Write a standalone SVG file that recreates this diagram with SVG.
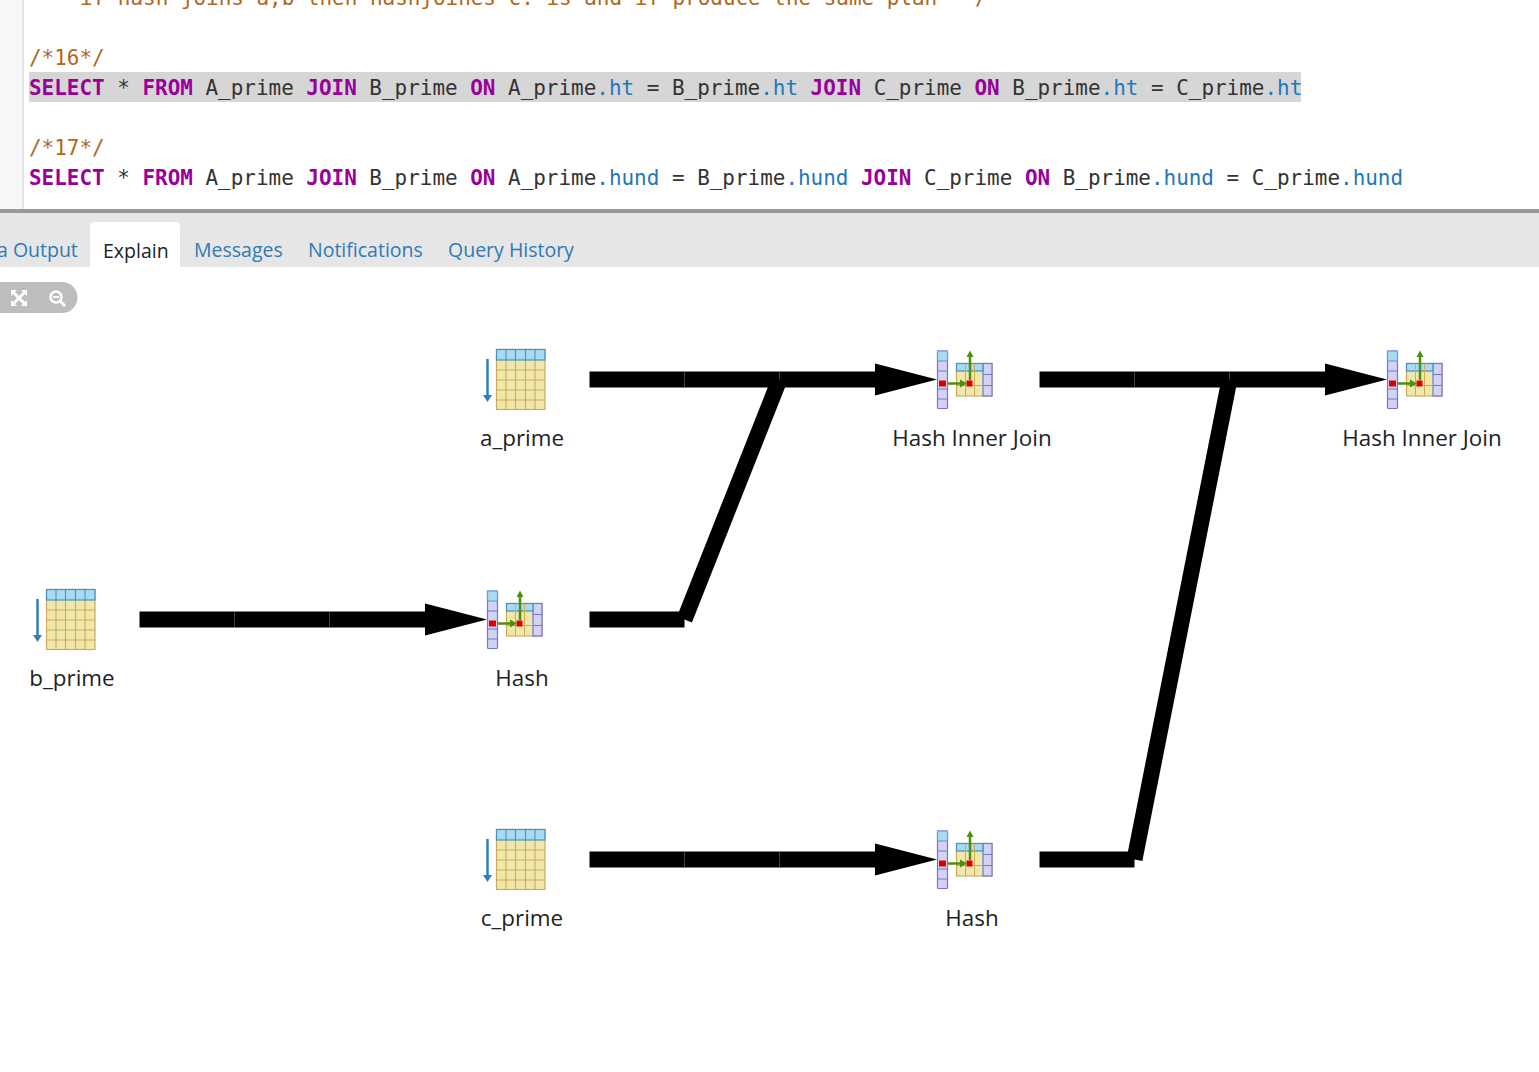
<svg xmlns="http://www.w3.org/2000/svg" width="1539" height="1072" viewBox="0 0 1539 1072">
<style>
.code{font-family:"DejaVu Sans Mono","Liberation Mono",monospace;font-size:20.95px;fill:#333;white-space:pre}
.c{fill:#b0661c}.k{fill:#990099;font-weight:bold}.v{fill:#2277bb}
.tab{font-family:"Open Sans","Noto Sans",sans-serif;font-size:19.5px;fill:#2f7ab8}
.lab{font-family:"Open Sans","Noto Sans",sans-serif;font-size:22.4px;fill:#222;text-anchor:middle}
.conn{stroke:#000;stroke-width:16;fill:none}
.arrowhead{fill:#000}
</style>
<defs>
<g id="scan">
<rect x="12.500" y="-30.500" width="48.500" height="60" fill="#f0e8aa" stroke="#cfa95c" stroke-width="1.200"/>
<path d="M12.500-10H61M12.500 0H61M12.500 10H61M12.500 20H61M22-30V30M31.500-30V30M41.500-30V30M51-30V30" stroke="#cfa95c" stroke-width="1.100" fill="none"/>
<rect x="12.500" y="-30.500" width="48.500" height="10.500" fill="#a9daf3" stroke="#4a90c0" stroke-width="1.200"/>
<path d="M22-30V-20M31.500-30V-20M41.500-30V-20M51-30V-20" stroke="#4a90c0" stroke-width="1.100" fill="none"/>
<path d="M3.500-21V16" stroke="#2f7fb8" stroke-width="2.500" fill="none"/>
<path d="M-1 15H8L3.500 22Z" fill="#2f7fb8"/>
</g>
<g id="hash">
<rect x="3.500" y="-29" width="10" height="57.500" rx="1" fill="#d4d2f2" stroke="#6f78d0" stroke-width="1.200"/>
<rect x="3.500" y="-29" width="10" height="10" fill="#a9daf3" stroke="#6f9fd0" stroke-width="1.200"/>
<path d="M3.500-9H13.500M3.500 9H13.500M3.500 19H13.500" stroke="#6f78d0" stroke-width="1"/>
<rect x="22.500" y="-16.500" width="35.500" height="32.500" fill="#f0e8aa" stroke="#cfa95c" stroke-width="1.200"/>
<rect x="49" y="-16.500" width="9" height="32.500" fill="#d4d2f2" stroke="#6f78d0" stroke-width="1.200"/>
<rect x="22.500" y="-16.500" width="26.500" height="7.500" fill="#a9daf3" stroke="#4a90c0" stroke-width="1.200"/>
<path d="M31.500-16.500V16M40.500-16.500V16M22.500 5.500H49" stroke="#cfa95c" stroke-width="1" fill="none"/>
<path d="M49-5.500H58M49 5.500H58" stroke="#6f78d0" stroke-width="1" fill="none"/>
<rect x="5" y="0.500" width="7" height="6" fill="#dd0000"/>
<rect x="32.500" y="0.500" width="6" height="6" fill="#dd0000"/>
<path d="M14 3.500H28M36-23V0" stroke="#4f8f10" stroke-width="2.500" fill="none"/>
<path d="M26-0.500L33 3.500L26 7.500ZM32.500-23L36-29.500L39.500-23Z" fill="#4f8f10"/>
</g>
</defs>
<rect width="1539" height="1072" fill="#fff"/>
<g id="editor">
<rect x="0" y="0" width="22" height="210" fill="#f7f7f7"/>
<rect x="22" y="0" width="2" height="210" fill="#e4e4e4"/>
<rect x="29" y="72" width="1272" height="30" fill="#d6d6d6"/>
<text class="code c" x="80" y="5" xml:space="preserve">if hash joins a,b then hashjoines c: is and if produce the same plan **/</text>
<text class="code c" x="29" y="65">/*16*/</text>
<text class="code" x="29" y="95" xml:space="preserve"><tspan class="k">SELECT</tspan> * <tspan class="k">FROM</tspan> A_prime <tspan class="k">JOIN</tspan> B_prime <tspan class="k">ON</tspan> A_prime<tspan class="v">.ht</tspan> = B_prime<tspan class="v">.ht</tspan> <tspan class="k">JOIN</tspan> C_prime <tspan class="k">ON</tspan> B_prime<tspan class="v">.ht</tspan> = C_prime<tspan class="v">.ht</tspan></text>
<text class="code c" x="29" y="155">/*17*/</text>
<text class="code" x="29" y="185" xml:space="preserve"><tspan class="k">SELECT</tspan> * <tspan class="k">FROM</tspan> A_prime <tspan class="k">JOIN</tspan> B_prime <tspan class="k">ON</tspan> A_prime<tspan class="v">.hund</tspan> = B_prime<tspan class="v">.hund</tspan> <tspan class="k">JOIN</tspan> C_prime <tspan class="k">ON</tspan> B_prime<tspan class="v">.hund</tspan> = C_prime<tspan class="v">.hund</tspan></text>
</g>
<g id="tabs">
<rect x="0" y="209" width="1539" height="58" fill="#e6e6e6"/>
<rect x="0" y="209" width="1539" height="4" fill="#999"/>
<path d="M90 267V226a4 4 0 0 1 4-4H176a4 4 0 0 1 4 4V267Z" fill="#fff"/>
<text class="tab" x="-3" y="257">a Output</text>
<text class="tab" x="103" y="258" style="fill:#222">Explain</text>
<text class="tab" x="194" y="257">Messages</text>
<text class="tab" x="308" y="257">Notifications</text>
<text class="tab" x="448" y="257">Query History</text>
</g>
<g id="toolbar">
<path d="M0 282H62a15.500 15.500 0 0 1 0 31H0Z" fill="#bdbdbd"/>
<path d="M11 290H17L11 296ZM27 290V296L21 290ZM11 306V300L17 306ZM27 306H21L27 300Z" fill="#fff"/>
<path d="M13 292L25 304M25 292L13 304" stroke="#fff" stroke-width="3"/>
<circle cx="56" cy="297" r="5.500" fill="none" stroke="#fff" stroke-width="2.500"/>
<path d="M53 297H59" stroke="#fff" stroke-width="2"/>
<path d="M60 301L65 306" stroke="#fff" stroke-width="3"/>
</g>
<g id="connectors">
<path class="conn" d="M589.500 379.500H684.500"/><path class="conn" d="M684.500 379.500H779.500"/><path class="conn" d="M779.500 379.500H875"/>
<path class="arrowhead" d="M875 363.500L937 379.500L875 395.500Z"/>
<path class="conn" d="M779.500 379.500L684.500 619.500"/>
<path class="conn" d="M589.500 619.500H684.500"/>
<path class="conn" d="M139.500 619.500H234.500"/><path class="conn" d="M234.500 619.500H329.500"/><path class="conn" d="M329.500 619.500H425"/>
<path class="arrowhead" d="M425 603.500L487 619.500L425 635.500Z"/>
<path class="conn" d="M589.500 859.500H684.500"/><path class="conn" d="M684.500 859.500H779.500"/><path class="conn" d="M779.500 859.500H875"/>
<path class="arrowhead" d="M875 843.500L937 859.500L875 875.500Z"/>
<path class="conn" d="M1039.500 379.500H1134.500"/><path class="conn" d="M1134.500 379.500H1229.500"/><path class="conn" d="M1229.500 379.500H1325"/>
<path class="arrowhead" d="M1325 363.500L1387 379.500L1325 395.500Z"/>
<path class="conn" d="M1229.500 379.500L1134.500 859.500"/>
<path class="conn" d="M1039.500 859.500H1134.500"/>
</g>
<g id="a_prime"><use href="#scan" x="484" y="380"/><text class="lab" x="522" y="446">a_prime</text></g>
<g id="b_prime"><use href="#scan" x="34" y="620"/><text class="lab" x="72" y="686">b_prime</text></g>
<g id="c_prime"><use href="#scan" x="484" y="860"/><text class="lab" x="522" y="926">c_prime</text></g>
<g id="hash1"><use href="#hash" x="484" y="620"/><text class="lab" x="522" y="686">Hash</text></g>
<g id="hash2"><use href="#hash" x="934" y="860"/><text class="lab" x="972" y="926">Hash</text></g>
<g id="join1"><use href="#hash" x="934" y="380"/><text class="lab" x="972" y="446">Hash Inner Join</text></g>
<g id="join2"><use href="#hash" x="1384" y="380"/><text class="lab" x="1422" y="446">Hash Inner Join</text></g>
</svg>
